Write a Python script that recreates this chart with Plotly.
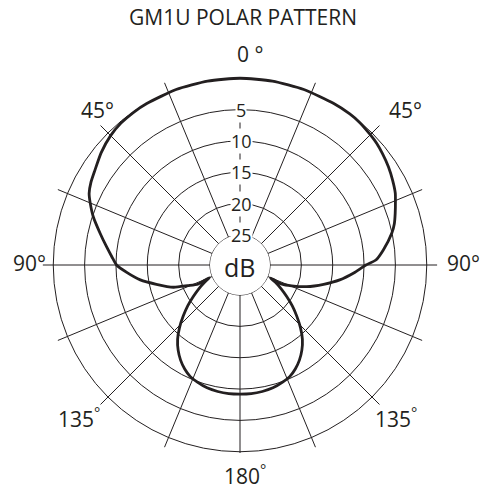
import plotly.graph_objects as go

# ---------------- data ----------------
title_text = "GM1U POLAR PATTERN"

# polar response, angle clockwise from front (deg) and level (dB)
pattern_theta = [0, 10, 20, 30, 36, 40, 45, 48.3, 52, 56.5, 61, 65.2, 67.5, 71.6, 75, 78.2, 84, 87.9, 90,
                 94, 98.5, 103, 108, 112, 114.5, 114, 113,
                 116, 120, 124, 128, 132, 136, 140, 144, 148, 152, 156, 160, 165, 170, 175, 180,
                 185, 190, 195, 200, 204, 208, 212, 216, 220, 224, 228, 232, 236, 240, 244, 247.5,
                 246.5, 245.5, 248.5, 251.5, 257, 261.5, 266, 270, 273.7, 277.8, 282.8, 288.2, 292.6,
                 295.4, 299, 303.2, 309, 315, 320, 325, 330, 340, 350, 360]
pattern_db = [0.0, 0.0, 0.0, 0.0, 0.0, -0.1, -0.4, -0.6, -0.95, -1.4, -1.95, -2.5, -2.95, -3.7, -4.3, -5.06, -6.8, -8.1, -9.7,
              -11.6, -13.7, -16.1, -18.6, -20.9, -22.4, -23.6, -24.5,
              -23.5, -22.2, -20.8, -19.2, -17.6, -15.9, -14.3, -13.0, -11.9, -11.0, -10.3, -9.9, -9.5, -9.3, -9.2, -9.2,
              -9.2, -9.3, -9.5, -9.9, -10.3, -11.0, -11.9, -13.0, -14.3, -15.9, -17.6, -19.2, -20.8, -22.2, -23.5, -24.5,
              -23.6, -22.4, -20.8, -18.6, -16.1, -13.7, -11.8, -10.1, -9.3, -8.3, -6.9, -5.15, -3.9,
              -3.15, -2.6, -2.14, -1.3, -0.6, -0.25, -0.1, -0.05, 0.0, 0.0, 0.0]

ring_db = [-20, -15, -10, -5, 0]
ring_label_db = [-5, -10, -15, -20, -25]
ring_labels = ["5", "10", "15", "20", "25"]
hole_label = "dB"

spoke_angles = [22.5, 45, 67.5, 90, 112.5, 135, 157.5, 202.5, 225, 247.5, 270, 292.5, 315, 337.5]
front_spoke_angle = 0
rear_spoke_angle = 180

angle_labels = ["0 °", "45°", "45°", "90°", "90°", "135<sup>°</sup>", "135<sup>°</sup>", "180<sup>°</sup>"]

# ---------------- geometry / style ----------------
W, H = 485, 489
CX, CY = 240, 265
R_IN = 30.0
PX_PER_DB = 6.27
DB_MIN, DB_MAX = -25.0, 1.7
R_OUT = R_IN + (DB_MAX - DB_MIN) * PX_PER_DB
INK = "#231f20"
FONT = "Open Sans"

angle_label_px = [(250, 54), (97, 110), (405, 110), (29, 263), (463, 263), (79, 417), (396, 417), (245, 474)]


def r_px(db):
    return R_IN + (db - DB_MIN) * PX_PER_DB


fig = go.Figure()

# spokes
sp_r, sp_t = [], []
for a in spoke_angles:
    sp_r += [DB_MIN, DB_MAX, None]
    sp_t += [a, a, None]
sp_r += [DB_MIN, -5, None, DB_MIN, 0.2]
sp_t += [front_spoke_angle, front_spoke_angle, None, rear_spoke_angle, rear_spoke_angle]
fig.add_trace(go.Scatterpolar(r=sp_r, theta=sp_t, mode="lines",
                              line=dict(color=INK, width=1), hoverinfo="skip"))

# hole circle
hole_t = [i * 2 for i in range(181)]
fig.add_trace(go.Scatterpolar(r=[DB_MIN] * len(hole_t), theta=hole_t, mode="lines",
                              line=dict(color=INK, width=1), hoverinfo="skip"))

# pattern
fig.add_trace(go.Scatterpolar(r=pattern_db, theta=pattern_theta, mode="lines",
                              line=dict(color=INK, width=2.8, shape="spline", smoothing=0.6),
                              hoverinfo="skip"))

annotations = []
annotations.append(dict(text=title_text, x=243 / W, y=1 - 17.5 / H, xref="paper", yref="paper",
                        showarrow=False, xanchor="center", yanchor="middle",
                        font=dict(family=FONT, size=21, color=INK)))
for txt, (px, py) in zip(angle_labels, angle_label_px):
    annotations.append(dict(text=txt, x=px / W, y=1 - py / H, xref="paper", yref="paper",
                            showarrow=False, xanchor="center", yanchor="middle",
                            font=dict(family=FONT, size=21, color=INK)))
for txt, db in zip(ring_labels, ring_label_db):
    py = CY - r_px(db)
    annotations.append(dict(text=txt, x=(CX + 1) / W, y=1 - py / H, xref="paper", yref="paper",
                            showarrow=False, xanchor="center", yanchor="middle",
                            bgcolor="white", borderpad=0,
                            font=dict(family=FONT, size=18, color=INK)))
annotations.append(dict(text=hole_label, x=(CX - 1) / W, y=1 - (CY + 2) / H, xref="paper", yref="paper",
                        showarrow=False, xanchor="center", yanchor="middle",
                        font=dict(family=FONT, size=25, color=INK)))

fig.update_layout(
    width=W, height=H,
    margin=dict(l=0, r=0, t=0, b=0),
    paper_bgcolor="white",
    showlegend=False,
    annotations=annotations,
    polar=dict(
        domain=dict(x=[(CX - R_OUT) / W, (CX + R_OUT) / W],
                    y=[1 - (CY + R_OUT) / H, 1 - (CY - R_OUT) / H]),
        hole=R_IN / R_OUT,
        bgcolor="white",
        radialaxis=dict(range=[DB_MIN, DB_MAX], tickvals=ring_db, showticklabels=False,
                        ticks="", showline=False, showgrid=True, gridcolor=INK, gridwidth=1),
        angularaxis=dict(rotation=90, direction="clockwise", showgrid=False, showline=False,
                         showticklabels=False, ticks=""),
    ),
)

fig.write_html("out.html", config={"displayModeBar": False},
               post_script="document.body.style.margin='0';document.body.style.overflow='hidden';")
